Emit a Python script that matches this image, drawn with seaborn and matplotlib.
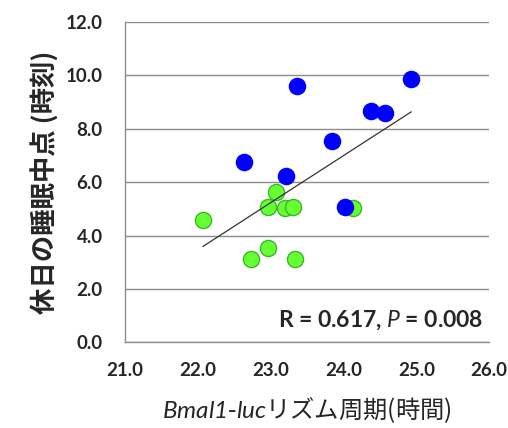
import matplotlib
matplotlib.use("Agg")
import matplotlib.pyplot as plt
import seaborn as sns
import pandas as pd
import numpy as np

# data
blue_x = [23.36, 24.93, 24.375, 24.57, 23.84, 22.63, 23.21, 24.02]
blue_y = [9.61, 9.86, 8.67, 8.59, 7.56, 6.75, 6.25, 5.08]
green_x = [22.07, 23.08, 22.97, 23.20, 23.31, 24.13, 22.97, 22.73, 23.33]
green_y = [4.59, 5.62, 5.08, 5.05, 5.08, 5.05, 3.52, 3.11, 3.11]
x_ticks = [21.0, 22.0, 23.0, 24.0, 25.0, 26.0]
y_ticks = [0.0, 2.0, 4.0, 6.0, 8.0, 10.0, 12.0]
annot = "R = 0.617, $\\mathit{P}$ = 0.008"
xlabel = "$\\mathit{Bmal1}$-$\\mathit{luc}$リズム周期(時間)"
ylabel = "休日の睡眠中点 (時刻)"

df = pd.DataFrame({
    "x": blue_x + green_x,
    "y": blue_y + green_y,
    "g": ["blue"] * len(blue_x) + ["green"] * len(green_x),
})

sns.set_style("white")
plt.rcParams['font.family'] = ['Lato', 'Noto Sans CJK JP', 'DejaVu Sans']
plt.rcParams['mathtext.fontset'] = 'custom'
plt.rcParams['mathtext.it'] = 'Lato:italic'
plt.rcParams['mathtext.rm'] = 'Lato:italic'
plt.rcParams['mathtext.bf'] = 'Lato:bold'

fig = plt.figure(figsize=(5.08, 4.28), dpi=100)
ax = fig.add_axes([0.246, 0.2, 0.717, 0.7486])

gray = "#8c8c8c"
ax.set_axisbelow(True)
ax.yaxis.grid(True, color=gray, lw=1.0)
ax.xaxis.grid(False)

sns.scatterplot(data=df[df.g == "green"], x="x", y="y", ax=ax, s=135,
                color="#66ff33", edgecolor="#3cb52a", linewidth=1.0, zorder=3)
sns.scatterplot(data=df[df.g == "blue"], x="x", y="y", ax=ax, s=135,
                color="#0000ff", edgecolor="#0000ff", linewidth=1.0, zorder=4)
sns.regplot(data=df, x="x", y="y", ax=ax, scatter=False, ci=None,
            line_kws=dict(color="#333333", lw=0.9, zorder=5))

ax.set_xlim(21, 26)
ax.set_ylim(0, 12)
ax.set_xticks(x_ticks)
ax.set_yticks(y_ticks)
ax.set_xticklabels([f"{v:.1f}" for v in x_ticks], fontsize=13.5, fontweight="bold")
ax.set_yticklabels([f"{v:.1f}" for v in y_ticks], fontsize=13.5, fontweight="bold")
for s in ["top", "right"]:
    ax.spines[s].set_visible(False)
for s in ["left", "bottom"]:
    ax.spines[s].set_color(gray)
    ax.spines[s].set_linewidth(1.0)
ax.tick_params(axis="both", which="major", length=6, width=1.0, color=gray,
               direction="out")
ax.tick_params(axis="y", pad=10)
ax.tick_params(axis="x", pad=8)

ax.set_xlabel(xlabel, fontsize=17.5, labelpad=12, family="Noto Sans CJK JP")
ax.set_ylabel(ylabel, fontsize=19, fontweight="bold", labelpad=4,
              family=["Noto Sans CJK JP", "DejaVu Sans"])

ax.text(0.983, 0.07, annot, transform=ax.transAxes, ha="right", va="center",
        fontsize=16.5, fontweight="bold")

fig.savefig("out.png", dpi=100)
